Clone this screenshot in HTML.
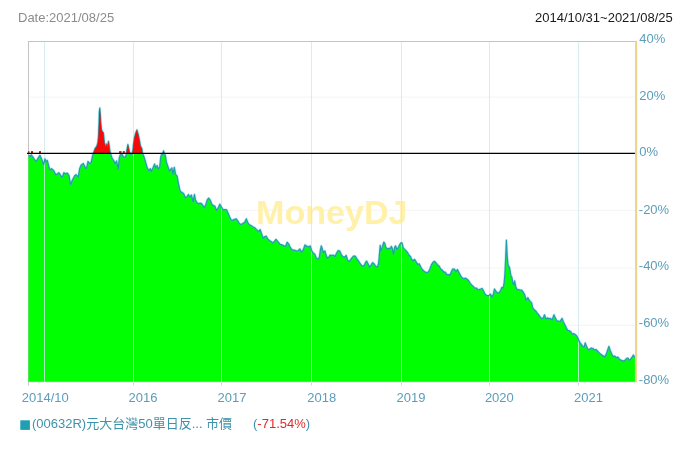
<!DOCTYPE html>
<html lang="zh-Hant">
<head>
<meta charset="utf-8">
<title>MoneyDJ</title>
<style>
html,body{margin:0;padding:0;background:#fff;}
body{width:686px;height:452px;overflow:hidden;position:relative;}
svg{display:block;position:absolute;left:0;top:0;}
svg text{font-family:"Liberation Sans","Noto Sans CJK TC",sans-serif;font-size:13px;}
.ax{fill:#5c9db8;}
.lg{fill:#3d93ab;}
</style>
</head>
<body>
<svg width="686" height="452" viewBox="0 0 686 452">
<rect width="686" height="452" fill="#fff"/>
<line x1="29" x2="635" y1="97.1" y2="97.1" stroke="#f4f4f4" stroke-width="1"/>
<line x1="29" x2="635" y1="210.3" y2="210.3" stroke="#f4f4f4" stroke-width="1"/>
<line x1="29" x2="635" y1="268" y2="268" stroke="#f4f4f4" stroke-width="1"/>
<line x1="29" x2="635" y1="325.3" y2="325.3" stroke="#f4f4f4" stroke-width="1"/>
<text x="256.0" y="224.3" style="font-size:34.1px;font-weight:bold" fill="#fff0aa">MoneyDJ</text>
<line x1="28.5" x2="28.5" y1="41" y2="382" stroke="#c4c4c4" stroke-width="1"/>
<line x1="28.5" x2="28.5" y1="382" y2="385.5" stroke="#cacaca" stroke-width="1"/>
<path d="M28.4,155.3 28.7,155.3 30.2,156.3 31.2,154.8 32.8,156.8 34.3,159.4 36.3,161.4 37.9,158.4 39.9,155.3 41.4,158.4 43.5,164.5 45,158.9 46,161.9 47.3,160.4 49.1,167.6 50.1,170.1 51.6,168.6 53.7,170.6 55.7,174.7 57.2,174.2 58.8,172.7 60.8,175.7 62.3,177.2 63.9,172.7 65.4,173.7 67.4,173.2 69,175.7 70.5,184.4 72.6,179.8 74.6,175.7 76.1,174.7 78.2,177.2 79.7,168.6 81.2,165 83.3,163.5 85.3,167.6 86.5,168.7 88,161.5 89.6,163.6 91.1,162.6 92.7,155.4 93.7,153.4 95.2,153.4 96.7,153.4 97.8,153.4 98.5,153.4 99,153.4 99.3,153.4 99.8,153.4 100.3,153.4 100.8,153.4 101.5,153.4 102.3,153.4 103.4,153.4 103.9,153.4 104.4,153.4 105.4,153.4 105.9,153.4 106.6,153.4 107.4,153.4 108.5,153.4 109.2,153.4 109.8,153.4 110.5,153.4 112,158 113.6,160.5 115.1,163.6 116.6,161 118.2,169.2 119.2,158.5 120.2,154.9 121.7,153.9 123.3,156.9 125.3,157.4 126.3,154.4 126.8,153.4 127.9,153.4 129.4,153.4 130.4,154.4 131.8,154.2 132.4,153.4 132.9,153.4 133.4,153.4 134.4,153.4 135.7,153.4 136.9,153.4 138.4,153.4 139.4,153.4 140.4,153.4 141.9,153.4 142.5,153.4 144.2,157.4 145.7,162.6 147.2,167.7 148.8,170.7 150.3,168.7 151.3,171.5 153.1,167.6 154.6,164 155.6,168 157.1,165.5 158.2,169 159.7,167 160.7,157.3 161.5,154.6 162.5,154.3 163.2,153.4 163.6,153.4 164,153.4 164.8,154.6 165.5,156.2 166.3,162 167.9,166.5 169.4,171.1 170.4,169.6 171.9,168 173,174.2 174.3,167.4 175.6,174.4 177.1,176.1 178.2,182.2 179.7,189.4 180.7,191.9 182.2,192.4 183.8,194 185.3,197.6 186.8,197 188.4,194.5 189.9,197 191.4,195 193,201.6 194.5,194.5 195.5,200.1 197,202.7 198.6,203.7 200.6,203.2 202.1,204.2 204.2,207.8 205.7,204.7 207.2,200.1 208.6,198.1 210.3,200.1 211.8,204.2 213.4,205.7 214.9,206.2 216.4,210.3 218,208.3 219.8,204.2 221.5,207.2 223.1,209.8 224.6,209.5 226.5,209.7 228.1,213.3 229.6,216.8 231.1,219.9 232.7,220.4 234.2,219.4 236.2,218.9 237.8,220.9 239.3,223.5 240.8,224.5 242.9,223.5 244.9,221.9 246.4,218.9 247.4,221.9 249,224.5 251,225.5 253.1,227 254.6,227.6 256.6,229.6 258.7,231.6 260.2,229.6 261.7,234.2 263.3,238.3 264.8,236.7 266.3,236.2 267.9,239.3 269.9,240.8 271.4,241.8 273,242.9 274.5,241.3 276,239.3 278.1,241.8 280.1,244.4 282,244.9 284.1,245.9 285.6,246.4 287.1,242.3 288.7,243.9 290.2,247.4 292.2,250 294.3,250 296.3,251 298.4,250.5 299.9,249 301.4,252 303,250.5 305,244.9 307,246.4 308.6,246.9 310.1,245.9 311.6,250.5 313.2,253.1 314.7,254.1 316.2,257.7 317.8,259.2 319.3,257.7 320.3,250.5 321.3,245.9 322.3,249 323.4,252.6 324.9,251 325.9,254.6 327.4,258.2 329,257.1 330,255.1 331.5,255.6 333.1,255.1 335.1,256.6 336.6,253.1 338.2,250.5 339.7,251 341.2,254.6 342.8,256.6 344.8,257.1 346.2,255.5 347.6,260.1 349.1,261.6 350.6,259.6 352.1,257.6 353.7,256 355.2,256 356.7,258.6 358.3,260.6 359.8,263.2 361.8,265.7 363.9,266.2 365.4,262.7 366.6,261.1 368,263.7 369.5,267.2 371,265.2 372.6,262.7 374.1,263.7 375.6,266.2 377.4,267.2 378.7,262.7 379.5,253.5 380.2,245.3 380.9,250.4 382.2,247.3 383.8,242.2 384.8,243.3 385.8,247.3 387.3,248.9 388.9,248.4 390.4,248.4 391.4,246.3 392.4,248.9 393.5,254 394.5,247.9 395.5,245.8 396.8,249.4 398.1,247.9 399.6,244.8 400.9,242.8 402.1,242.8 403.2,247.9 404.7,249.4 406.2,250.9 407.8,253 409.3,255.5 410.5,256.5 411.5,259.3 413.1,260.8 414.6,259.3 416.1,261.8 417.7,264.4 419.2,263.9 420.7,266.9 422.2,269.5 424.3,271.5 426.3,272.6 428.4,272 429.9,269 431.4,264.9 433,262.3 434.5,261.3 436,262.9 437.6,264.9 439.1,265.9 440.6,269 442.1,270 443.7,272 445.2,272 446.7,274.6 448.3,274.6 449.8,275.6 451.3,272 452.7,269 454.4,269 455.9,271.5 457.4,269.5 459,272.6 460.5,275.6 462,277.7 463.6,278.7 465.6,278.2 467.1,279.2 468.7,280.7 470.2,283.3 471.6,284.9 473.2,286.4 474.7,288.2 476.2,288 477.8,289.5 479.3,289.6 480.7,289 482.2,288.5 483.8,291.5 485.3,294.6 486.8,295.6 488.9,295.6 490.4,294.1 491.9,297.1 493.3,294.6 494.5,289 496,291.5 497.6,293.1 499.1,292.6 500.6,290.5 501.8,287.4 503.2,288 504.2,282.3 504.9,274.2 505.5,262 506.4,240.2 507.2,256 508,264.7 509.5,267.7 510.3,272 510.8,275.2 511.8,277.2 512.9,283.4 513.9,284.9 514.6,280.8 515.7,286.4 516.9,289.5 518.5,289.5 520,290 521.5,290 523.1,292 524.6,294.6 526.1,300.2 527.9,297.7 529.2,300.2 530.7,301.9 531.5,302.6 532.6,307.7 534.1,309.7 535.6,310.8 537.1,312.8 538.7,314.8 540.2,316.9 541.7,318.9 543.3,317.9 544.5,314.8 545.8,318.9 547.3,317.9 548.9,318.9 550.4,318.4 551.9,319.9 553,317.4 554,314.8 555.5,318.4 557,321 558.6,321 560.1,321.5 561.1,319.9 562.1,318.4 563.2,321.5 564.7,324.5 566.2,327.6 567.8,330.7 569.3,330.7 570.8,331.7 572.3,334.2 573.9,333.7 575.4,334.7 576.7,336 578.2,339 579.8,342.4 581.1,344.2 582.7,346.4 584.2,346.9 585.2,342.9 586.7,346.9 588.3,350 589.8,349 591.3,348 592.9,348.5 594.4,350 595.9,349.5 597.4,351 599,352.6 600.5,354.1 602,355.1 603.6,356.1 604.6,357.1 606.1,354.6 607.7,350 608.9,346.4 610.2,350.5 611.7,354.1 613.3,356.6 614.8,356.1 616.3,357.7 617.9,357.1 619.4,359.2 620.9,360.2 622.4,360.7 624,361.2 625.5,359.7 627,358.2 628.1,358.2 629.1,360.2 630.6,359.2 632.1,357.1 633.4,355.1 634.7,357.1 635.7,357.1 L635.7,382 28.4,382Z" fill="#00ff00"/>
<line x1="44.5" x2="44.5" y1="41.5" y2="382" stroke="#cfe9ed" stroke-opacity="0.8" stroke-width="1"/>
<line x1="133.5" x2="133.5" y1="41.5" y2="382" stroke="#cfe9ed" stroke-opacity="0.8" stroke-width="1"/>
<line x1="133.5" x2="133.5" y1="382" y2="385.5" stroke="#cfd8da" stroke-width="1"/>
<line x1="221.5" x2="221.5" y1="41.5" y2="382" stroke="#cfe9ed" stroke-opacity="0.8" stroke-width="1"/>
<line x1="221.5" x2="221.5" y1="382" y2="385.5" stroke="#cfd8da" stroke-width="1"/>
<line x1="311.5" x2="311.5" y1="41.5" y2="382" stroke="#cfe9ed" stroke-opacity="0.8" stroke-width="1"/>
<line x1="311.5" x2="311.5" y1="382" y2="385.5" stroke="#cfd8da" stroke-width="1"/>
<line x1="401.5" x2="401.5" y1="41.5" y2="382" stroke="#cfe9ed" stroke-opacity="0.8" stroke-width="1"/>
<line x1="401.5" x2="401.5" y1="382" y2="385.5" stroke="#cfd8da" stroke-width="1"/>
<line x1="489.5" x2="489.5" y1="41.5" y2="382" stroke="#cfe9ed" stroke-opacity="0.8" stroke-width="1"/>
<line x1="489.5" x2="489.5" y1="382" y2="385.5" stroke="#cfd8da" stroke-width="1"/>
<line x1="578.5" x2="578.5" y1="41.5" y2="382" stroke="#cfe9ed" stroke-opacity="0.8" stroke-width="1"/>
<line x1="578.5" x2="578.5" y1="382" y2="385.5" stroke="#cfd8da" stroke-width="1"/>
<path d="M28.4,155.3 28.7,155.3 30.2,156.3 31.2,154.8 32.8,156.8 34.3,159.4 36.3,161.4 37.9,158.4 39.9,155.3 41.4,158.4 43.5,164.5 45,158.9 46,161.9 47.3,160.4 49.1,167.6 50.1,170.1 51.6,168.6 53.7,170.6 55.7,174.7 57.2,174.2 58.8,172.7 60.8,175.7 62.3,177.2 63.9,172.7 65.4,173.7 67.4,173.2 69,175.7 70.5,184.4 72.6,179.8 74.6,175.7 76.1,174.7 78.2,177.2 79.7,168.6 81.2,165 83.3,163.5 85.3,167.6 86.5,168.7 88,161.5 89.6,163.6 91.1,162.6 92.7,155.4 93.7,152.3 95.2,148.3 96.7,146.5 97.8,142.8 98.5,135.7 99,122.4 99.3,112.2 99.8,108.1 100.3,114.2 100.8,122.4 101.5,129.6 102.3,131.6 103.4,132.6 103.9,137.7 104.4,142.8 105.4,146 105.9,146.6 106.6,143.8 107.4,147.2 108.5,141.3 109.2,145.5 109.8,150.3 110.5,153.4 112,158 113.6,160.5 115.1,163.6 116.6,161 118.2,169.2 119.2,158.5 120.2,154.9 121.7,153.9 123.3,156.9 125.3,157.4 126.3,154.4 126.8,150.3 127.9,144.5 129.4,151.3 130.4,154.4 131.8,154.2 132.4,152.5 132.9,149.8 133.4,144.9 134.4,137.9 135.7,132.9 136.9,129.9 138.4,134.9 139.4,139.9 140.4,145.8 141.9,148.8 142.5,153.2 144.2,157.4 145.7,162.6 147.2,167.7 148.8,170.7 150.3,168.7 151.3,171.5 153.1,167.6 154.6,164 155.6,168 157.1,165.5 158.2,169 159.7,167 160.7,157.3 161.5,154.6 162.5,154.3 163.2,152 163.6,150.9 164,152.5 164.8,154.6 165.5,156.2 166.3,162 167.9,166.5 169.4,171.1 170.4,169.6 171.9,168 173,174.2 174.3,167.4 175.6,174.4 177.1,176.1 178.2,182.2 179.7,189.4 180.7,191.9 182.2,192.4 183.8,194 185.3,197.6 186.8,197 188.4,194.5 189.9,197 191.4,195 193,201.6 194.5,194.5 195.5,200.1 197,202.7 198.6,203.7 200.6,203.2 202.1,204.2 204.2,207.8 205.7,204.7 207.2,200.1 208.6,198.1 210.3,200.1 211.8,204.2 213.4,205.7 214.9,206.2 216.4,210.3 218,208.3 219.8,204.2 221.5,207.2 223.1,209.8 224.6,209.5 226.5,209.7 228.1,213.3 229.6,216.8 231.1,219.9 232.7,220.4 234.2,219.4 236.2,218.9 237.8,220.9 239.3,223.5 240.8,224.5 242.9,223.5 244.9,221.9 246.4,218.9 247.4,221.9 249,224.5 251,225.5 253.1,227 254.6,227.6 256.6,229.6 258.7,231.6 260.2,229.6 261.7,234.2 263.3,238.3 264.8,236.7 266.3,236.2 267.9,239.3 269.9,240.8 271.4,241.8 273,242.9 274.5,241.3 276,239.3 278.1,241.8 280.1,244.4 282,244.9 284.1,245.9 285.6,246.4 287.1,242.3 288.7,243.9 290.2,247.4 292.2,250 294.3,250 296.3,251 298.4,250.5 299.9,249 301.4,252 303,250.5 305,244.9 307,246.4 308.6,246.9 310.1,245.9 311.6,250.5 313.2,253.1 314.7,254.1 316.2,257.7 317.8,259.2 319.3,257.7 320.3,250.5 321.3,245.9 322.3,249 323.4,252.6 324.9,251 325.9,254.6 327.4,258.2 329,257.1 330,255.1 331.5,255.6 333.1,255.1 335.1,256.6 336.6,253.1 338.2,250.5 339.7,251 341.2,254.6 342.8,256.6 344.8,257.1 346.2,255.5 347.6,260.1 349.1,261.6 350.6,259.6 352.1,257.6 353.7,256 355.2,256 356.7,258.6 358.3,260.6 359.8,263.2 361.8,265.7 363.9,266.2 365.4,262.7 366.6,261.1 368,263.7 369.5,267.2 371,265.2 372.6,262.7 374.1,263.7 375.6,266.2 377.4,267.2 378.7,262.7 379.5,253.5 380.2,245.3 380.9,250.4 382.2,247.3 383.8,242.2 384.8,243.3 385.8,247.3 387.3,248.9 388.9,248.4 390.4,248.4 391.4,246.3 392.4,248.9 393.5,254 394.5,247.9 395.5,245.8 396.8,249.4 398.1,247.9 399.6,244.8 400.9,242.8 402.1,242.8 403.2,247.9 404.7,249.4 406.2,250.9 407.8,253 409.3,255.5 410.5,256.5 411.5,259.3 413.1,260.8 414.6,259.3 416.1,261.8 417.7,264.4 419.2,263.9 420.7,266.9 422.2,269.5 424.3,271.5 426.3,272.6 428.4,272 429.9,269 431.4,264.9 433,262.3 434.5,261.3 436,262.9 437.6,264.9 439.1,265.9 440.6,269 442.1,270 443.7,272 445.2,272 446.7,274.6 448.3,274.6 449.8,275.6 451.3,272 452.7,269 454.4,269 455.9,271.5 457.4,269.5 459,272.6 460.5,275.6 462,277.7 463.6,278.7 465.6,278.2 467.1,279.2 468.7,280.7 470.2,283.3 471.6,284.9 473.2,286.4 474.7,288.2 476.2,288 477.8,289.5 479.3,289.6 480.7,289 482.2,288.5 483.8,291.5 485.3,294.6 486.8,295.6 488.9,295.6 490.4,294.1 491.9,297.1 493.3,294.6 494.5,289 496,291.5 497.6,293.1 499.1,292.6 500.6,290.5 501.8,287.4 503.2,288 504.2,282.3 504.9,274.2 505.5,262 506.4,240.2 507.2,256 508,264.7 509.5,267.7 510.3,272 510.8,275.2 511.8,277.2 512.9,283.4 513.9,284.9 514.6,280.8 515.7,286.4 516.9,289.5 518.5,289.5 520,290 521.5,290 523.1,292 524.6,294.6 526.1,300.2 527.9,297.7 529.2,300.2 530.7,301.9 531.5,302.6 532.6,307.7 534.1,309.7 535.6,310.8 537.1,312.8 538.7,314.8 540.2,316.9 541.7,318.9 543.3,317.9 544.5,314.8 545.8,318.9 547.3,317.9 548.9,318.9 550.4,318.4 551.9,319.9 553,317.4 554,314.8 555.5,318.4 557,321 558.6,321 560.1,321.5 561.1,319.9 562.1,318.4 563.2,321.5 564.7,324.5 566.2,327.6 567.8,330.7 569.3,330.7 570.8,331.7 572.3,334.2 573.9,333.7 575.4,334.7 576.7,336 578.2,339 579.8,342.4 581.1,344.2 582.7,346.4 584.2,346.9 585.2,342.9 586.7,346.9 588.3,350 589.8,349 591.3,348 592.9,348.5 594.4,350 595.9,349.5 597.4,351 599,352.6 600.5,354.1 602,355.1 603.6,356.1 604.6,357.1 606.1,354.6 607.7,350 608.9,346.4 610.2,350.5 611.7,354.1 613.3,356.6 614.8,356.1 616.3,357.7 617.9,357.1 619.4,359.2 620.9,360.2 622.4,360.7 624,361.2 625.5,359.7 627,358.2 628.1,358.2 629.1,360.2 630.6,359.2 632.1,357.1 633.4,355.1 634.7,357.1 635.7,357.1" fill="none" stroke="#3fc3d2" stroke-opacity="0.3" stroke-width="2.6" stroke-linejoin="round"/>
<path d="M28.4,155.3 28.7,155.3 30.2,156.3 31.2,154.8 32.8,156.8 34.3,159.4 36.3,161.4 37.9,158.4 39.9,155.3 41.4,158.4 43.5,164.5 45,158.9 46,161.9 47.3,160.4 49.1,167.6 50.1,170.1 51.6,168.6 53.7,170.6 55.7,174.7 57.2,174.2 58.8,172.7 60.8,175.7 62.3,177.2 63.9,172.7 65.4,173.7 67.4,173.2 69,175.7 70.5,184.4 72.6,179.8 74.6,175.7 76.1,174.7 78.2,177.2 79.7,168.6 81.2,165 83.3,163.5 85.3,167.6 86.5,168.7 88,161.5 89.6,163.6 91.1,162.6 92.7,155.4 93.7,152.3 95.2,148.3 96.7,146.5 97.8,142.8 98.5,135.7 99,122.4 99.3,112.2 99.8,108.1 100.3,114.2 100.8,122.4 101.5,129.6 102.3,131.6 103.4,132.6 103.9,137.7 104.4,142.8 105.4,146 105.9,146.6 106.6,143.8 107.4,147.2 108.5,141.3 109.2,145.5 109.8,150.3 110.5,153.4 112,158 113.6,160.5 115.1,163.6 116.6,161 118.2,169.2 119.2,158.5 120.2,154.9 121.7,153.9 123.3,156.9 125.3,157.4 126.3,154.4 126.8,150.3 127.9,144.5 129.4,151.3 130.4,154.4 131.8,154.2 132.4,152.5 132.9,149.8 133.4,144.9 134.4,137.9 135.7,132.9 136.9,129.9 138.4,134.9 139.4,139.9 140.4,145.8 141.9,148.8 142.5,153.2 144.2,157.4 145.7,162.6 147.2,167.7 148.8,170.7 150.3,168.7 151.3,171.5 153.1,167.6 154.6,164 155.6,168 157.1,165.5 158.2,169 159.7,167 160.7,157.3 161.5,154.6 162.5,154.3 163.2,152 163.6,150.9 164,152.5 164.8,154.6 165.5,156.2 166.3,162 167.9,166.5 169.4,171.1 170.4,169.6 171.9,168 173,174.2 174.3,167.4 175.6,174.4 177.1,176.1 178.2,182.2 179.7,189.4 180.7,191.9 182.2,192.4 183.8,194 185.3,197.6 186.8,197 188.4,194.5 189.9,197 191.4,195 193,201.6 194.5,194.5 195.5,200.1 197,202.7 198.6,203.7 200.6,203.2 202.1,204.2 204.2,207.8 205.7,204.7 207.2,200.1 208.6,198.1 210.3,200.1 211.8,204.2 213.4,205.7 214.9,206.2 216.4,210.3 218,208.3 219.8,204.2 221.5,207.2 223.1,209.8 224.6,209.5 226.5,209.7 228.1,213.3 229.6,216.8 231.1,219.9 232.7,220.4 234.2,219.4 236.2,218.9 237.8,220.9 239.3,223.5 240.8,224.5 242.9,223.5 244.9,221.9 246.4,218.9 247.4,221.9 249,224.5 251,225.5 253.1,227 254.6,227.6 256.6,229.6 258.7,231.6 260.2,229.6 261.7,234.2 263.3,238.3 264.8,236.7 266.3,236.2 267.9,239.3 269.9,240.8 271.4,241.8 273,242.9 274.5,241.3 276,239.3 278.1,241.8 280.1,244.4 282,244.9 284.1,245.9 285.6,246.4 287.1,242.3 288.7,243.9 290.2,247.4 292.2,250 294.3,250 296.3,251 298.4,250.5 299.9,249 301.4,252 303,250.5 305,244.9 307,246.4 308.6,246.9 310.1,245.9 311.6,250.5 313.2,253.1 314.7,254.1 316.2,257.7 317.8,259.2 319.3,257.7 320.3,250.5 321.3,245.9 322.3,249 323.4,252.6 324.9,251 325.9,254.6 327.4,258.2 329,257.1 330,255.1 331.5,255.6 333.1,255.1 335.1,256.6 336.6,253.1 338.2,250.5 339.7,251 341.2,254.6 342.8,256.6 344.8,257.1 346.2,255.5 347.6,260.1 349.1,261.6 350.6,259.6 352.1,257.6 353.7,256 355.2,256 356.7,258.6 358.3,260.6 359.8,263.2 361.8,265.7 363.9,266.2 365.4,262.7 366.6,261.1 368,263.7 369.5,267.2 371,265.2 372.6,262.7 374.1,263.7 375.6,266.2 377.4,267.2 378.7,262.7 379.5,253.5 380.2,245.3 380.9,250.4 382.2,247.3 383.8,242.2 384.8,243.3 385.8,247.3 387.3,248.9 388.9,248.4 390.4,248.4 391.4,246.3 392.4,248.9 393.5,254 394.5,247.9 395.5,245.8 396.8,249.4 398.1,247.9 399.6,244.8 400.9,242.8 402.1,242.8 403.2,247.9 404.7,249.4 406.2,250.9 407.8,253 409.3,255.5 410.5,256.5 411.5,259.3 413.1,260.8 414.6,259.3 416.1,261.8 417.7,264.4 419.2,263.9 420.7,266.9 422.2,269.5 424.3,271.5 426.3,272.6 428.4,272 429.9,269 431.4,264.9 433,262.3 434.5,261.3 436,262.9 437.6,264.9 439.1,265.9 440.6,269 442.1,270 443.7,272 445.2,272 446.7,274.6 448.3,274.6 449.8,275.6 451.3,272 452.7,269 454.4,269 455.9,271.5 457.4,269.5 459,272.6 460.5,275.6 462,277.7 463.6,278.7 465.6,278.2 467.1,279.2 468.7,280.7 470.2,283.3 471.6,284.9 473.2,286.4 474.7,288.2 476.2,288 477.8,289.5 479.3,289.6 480.7,289 482.2,288.5 483.8,291.5 485.3,294.6 486.8,295.6 488.9,295.6 490.4,294.1 491.9,297.1 493.3,294.6 494.5,289 496,291.5 497.6,293.1 499.1,292.6 500.6,290.5 501.8,287.4 503.2,288 504.2,282.3 504.9,274.2 505.5,262 506.4,240.2 507.2,256 508,264.7 509.5,267.7 510.3,272 510.8,275.2 511.8,277.2 512.9,283.4 513.9,284.9 514.6,280.8 515.7,286.4 516.9,289.5 518.5,289.5 520,290 521.5,290 523.1,292 524.6,294.6 526.1,300.2 527.9,297.7 529.2,300.2 530.7,301.9 531.5,302.6 532.6,307.7 534.1,309.7 535.6,310.8 537.1,312.8 538.7,314.8 540.2,316.9 541.7,318.9 543.3,317.9 544.5,314.8 545.8,318.9 547.3,317.9 548.9,318.9 550.4,318.4 551.9,319.9 553,317.4 554,314.8 555.5,318.4 557,321 558.6,321 560.1,321.5 561.1,319.9 562.1,318.4 563.2,321.5 564.7,324.5 566.2,327.6 567.8,330.7 569.3,330.7 570.8,331.7 572.3,334.2 573.9,333.7 575.4,334.7 576.7,336 578.2,339 579.8,342.4 581.1,344.2 582.7,346.4 584.2,346.9 585.2,342.9 586.7,346.9 588.3,350 589.8,349 591.3,348 592.9,348.5 594.4,350 595.9,349.5 597.4,351 599,352.6 600.5,354.1 602,355.1 603.6,356.1 604.6,357.1 606.1,354.6 607.7,350 608.9,346.4 610.2,350.5 611.7,354.1 613.3,356.6 614.8,356.1 616.3,357.7 617.9,357.1 619.4,359.2 620.9,360.2 622.4,360.7 624,361.2 625.5,359.7 627,358.2 628.1,358.2 629.1,360.2 630.6,359.2 632.1,357.1 633.4,355.1 634.7,357.1 635.7,357.1" fill="none" stroke="#259dae" stroke-width="1.25" stroke-linejoin="round"/>
<path d="M28.4,153.4 28.7,153.4 30.2,153.4 31.2,153.4 32.8,153.4 34.3,153.4 36.3,153.4 37.9,153.4 39.9,153.4 41.4,153.4 43.5,153.4 45,153.4 46,153.4 47.3,153.4 49.1,153.4 50.1,153.4 51.6,153.4 53.7,153.4 55.7,153.4 57.2,153.4 58.8,153.4 60.8,153.4 62.3,153.4 63.9,153.4 65.4,153.4 67.4,153.4 69,153.4 70.5,153.4 72.6,153.4 74.6,153.4 76.1,153.4 78.2,153.4 79.7,153.4 81.2,153.4 83.3,153.4 85.3,153.4 86.5,153.4 88,153.4 89.6,153.4 91.1,153.4 92.7,153.4 93.7,152.3 95.2,148.3 96.7,146.5 97.8,142.8 98.5,135.7 99,122.4 99.3,112.2 99.8,108.1 100.3,114.2 100.8,122.4 101.5,129.6 102.3,131.6 103.4,132.6 103.9,137.7 104.4,142.8 105.4,146 105.9,146.6 106.6,143.8 107.4,147.2 108.5,141.3 109.2,145.5 109.8,150.3 110.5,153.4 112,153.4 113.6,153.4 115.1,153.4 116.6,153.4 118.2,153.4 119.2,153.4 120.2,153.4 121.7,153.4 123.3,153.4 125.3,153.4 126.3,153.4 126.8,150.3 127.9,144.5 129.4,151.3 130.4,153.4 131.8,153.4 132.4,152.5 132.9,149.8 133.4,144.9 134.4,137.9 135.7,132.9 136.9,129.9 138.4,134.9 139.4,139.9 140.4,145.8 141.9,148.8 142.5,153.2 144.2,153.4 145.7,153.4 147.2,153.4 148.8,153.4 150.3,153.4 151.3,153.4 153.1,153.4 154.6,153.4 155.6,153.4 157.1,153.4 158.2,153.4 159.7,153.4 160.7,153.4 161.5,153.4 162.5,153.4 163.2,152 163.6,150.9 164,152.5 164.8,153.4 165.5,153.4 166.3,153.4 167.9,153.4 169.4,153.4 170.4,153.4 171.9,153.4 173,153.4 174.3,153.4 175.6,153.4 177.1,153.4 178.2,153.4 179.7,153.4 180.7,153.4 182.2,153.4 183.8,153.4 185.3,153.4 186.8,153.4 188.4,153.4 189.9,153.4 191.4,153.4 193,153.4 194.5,153.4 195.5,153.4 197,153.4 198.6,153.4 200.6,153.4 202.1,153.4 204.2,153.4 205.7,153.4 207.2,153.4 208.6,153.4 210.3,153.4 211.8,153.4 213.4,153.4 214.9,153.4 216.4,153.4 218,153.4 219.8,153.4 221.5,153.4 223.1,153.4 224.6,153.4 226.5,153.4 228.1,153.4 229.6,153.4 231.1,153.4 232.7,153.4 234.2,153.4 236.2,153.4 237.8,153.4 239.3,153.4 240.8,153.4 242.9,153.4 244.9,153.4 246.4,153.4 247.4,153.4 249,153.4 251,153.4 253.1,153.4 254.6,153.4 256.6,153.4 258.7,153.4 260.2,153.4 261.7,153.4 263.3,153.4 264.8,153.4 266.3,153.4 267.9,153.4 269.9,153.4 271.4,153.4 273,153.4 274.5,153.4 276,153.4 278.1,153.4 280.1,153.4 282,153.4 284.1,153.4 285.6,153.4 287.1,153.4 288.7,153.4 290.2,153.4 292.2,153.4 294.3,153.4 296.3,153.4 298.4,153.4 299.9,153.4 301.4,153.4 303,153.4 305,153.4 307,153.4 308.6,153.4 310.1,153.4 311.6,153.4 313.2,153.4 314.7,153.4 316.2,153.4 317.8,153.4 319.3,153.4 320.3,153.4 321.3,153.4 322.3,153.4 323.4,153.4 324.9,153.4 325.9,153.4 327.4,153.4 329,153.4 330,153.4 331.5,153.4 333.1,153.4 335.1,153.4 336.6,153.4 338.2,153.4 339.7,153.4 341.2,153.4 342.8,153.4 344.8,153.4 346.2,153.4 347.6,153.4 349.1,153.4 350.6,153.4 352.1,153.4 353.7,153.4 355.2,153.4 356.7,153.4 358.3,153.4 359.8,153.4 361.8,153.4 363.9,153.4 365.4,153.4 366.6,153.4 368,153.4 369.5,153.4 371,153.4 372.6,153.4 374.1,153.4 375.6,153.4 377.4,153.4 378.7,153.4 379.5,153.4 380.2,153.4 380.9,153.4 382.2,153.4 383.8,153.4 384.8,153.4 385.8,153.4 387.3,153.4 388.9,153.4 390.4,153.4 391.4,153.4 392.4,153.4 393.5,153.4 394.5,153.4 395.5,153.4 396.8,153.4 398.1,153.4 399.6,153.4 400.9,153.4 402.1,153.4 403.2,153.4 404.7,153.4 406.2,153.4 407.8,153.4 409.3,153.4 410.5,153.4 411.5,153.4 413.1,153.4 414.6,153.4 416.1,153.4 417.7,153.4 419.2,153.4 420.7,153.4 422.2,153.4 424.3,153.4 426.3,153.4 428.4,153.4 429.9,153.4 431.4,153.4 433,153.4 434.5,153.4 436,153.4 437.6,153.4 439.1,153.4 440.6,153.4 442.1,153.4 443.7,153.4 445.2,153.4 446.7,153.4 448.3,153.4 449.8,153.4 451.3,153.4 452.7,153.4 454.4,153.4 455.9,153.4 457.4,153.4 459,153.4 460.5,153.4 462,153.4 463.6,153.4 465.6,153.4 467.1,153.4 468.7,153.4 470.2,153.4 471.6,153.4 473.2,153.4 474.7,153.4 476.2,153.4 477.8,153.4 479.3,153.4 480.7,153.4 482.2,153.4 483.8,153.4 485.3,153.4 486.8,153.4 488.9,153.4 490.4,153.4 491.9,153.4 493.3,153.4 494.5,153.4 496,153.4 497.6,153.4 499.1,153.4 500.6,153.4 501.8,153.4 503.2,153.4 504.2,153.4 504.9,153.4 505.5,153.4 506.4,153.4 507.2,153.4 508,153.4 509.5,153.4 510.3,153.4 510.8,153.4 511.8,153.4 512.9,153.4 513.9,153.4 514.6,153.4 515.7,153.4 516.9,153.4 518.5,153.4 520,153.4 521.5,153.4 523.1,153.4 524.6,153.4 526.1,153.4 527.9,153.4 529.2,153.4 530.7,153.4 531.5,153.4 532.6,153.4 534.1,153.4 535.6,153.4 537.1,153.4 538.7,153.4 540.2,153.4 541.7,153.4 543.3,153.4 544.5,153.4 545.8,153.4 547.3,153.4 548.9,153.4 550.4,153.4 551.9,153.4 553,153.4 554,153.4 555.5,153.4 557,153.4 558.6,153.4 560.1,153.4 561.1,153.4 562.1,153.4 563.2,153.4 564.7,153.4 566.2,153.4 567.8,153.4 569.3,153.4 570.8,153.4 572.3,153.4 573.9,153.4 575.4,153.4 576.7,153.4 578.2,153.4 579.8,153.4 581.1,153.4 582.7,153.4 584.2,153.4 585.2,153.4 586.7,153.4 588.3,153.4 589.8,153.4 591.3,153.4 592.9,153.4 594.4,153.4 595.9,153.4 597.4,153.4 599,153.4 600.5,153.4 602,153.4 603.6,153.4 604.6,153.4 606.1,153.4 607.7,153.4 608.9,153.4 610.2,153.4 611.7,153.4 613.3,153.4 614.8,153.4 616.3,153.4 617.9,153.4 619.4,153.4 620.9,153.4 622.4,153.4 624,153.4 625.5,153.4 627,153.4 628.1,153.4 629.1,153.4 630.6,153.4 632.1,153.4 633.4,153.4 634.7,153.4 635.7,153.4 L635.7,153.4 28.4,153.4Z" fill="#f50a0a"/>
<rect x="28.2" y="151.1" width="1.2" height="2.2" fill="#c81414"/>
<rect x="31" y="151.1" width="2.1" height="2.2" fill="#c81414"/>
<rect x="39" y="151.1" width="2" height="2.2" fill="#c81414"/>
<rect x="119.1" y="151.1" width="2.4" height="2.2" fill="#c81414"/>
<rect x="122.8" y="151.1" width="2" height="2.2" fill="#c81414"/>
<line x1="28" x2="635" y1="41.5" y2="41.5" stroke="#c4c4c4" stroke-width="1"/>
<line x1="29" x2="635" y1="382.3" y2="382.3" stroke="#e4f4e4" stroke-width="1"/>
<line x1="27" x2="635.5" y1="153.4" y2="153.4" stroke="#000" stroke-width="1.1"/>
<rect x="634.9" y="40.8" width="2.5" height="341.4" fill="#fbedc0" fill-opacity="0.8"/>
<rect x="635.3" y="40.8" width="1.4" height="341.4" fill="#e8c874"/>
<text x="18" y="22" fill="#8c8c8c">Date:2021/08/25</text>
<text x="535" y="22" fill="#1a1a1a">2014/10/31~2021/08/25</text>
<text class="ax" x="21.8" y="401.7">2014/10</text>
<text class="ax" x="128.6" y="401.7">2016</text>
<text class="ax" x="217.6" y="401.7">2017</text>
<text class="ax" x="307.2" y="401.7">2018</text>
<text class="ax" x="396.6" y="401.7">2019</text>
<text class="ax" x="484.9" y="401.7">2020</text>
<text class="ax" x="574" y="401.7">2021</text>
<text class="ax" x="639.3" y="42.6">40%</text>
<text class="ax" x="639.3" y="99.6">20%</text>
<text class="ax" x="639.3" y="156.2">0%</text>
<text class="ax" x="638.8" y="213.5">-20%</text>
<text class="ax" x="638.8" y="269.8">-40%</text>
<text class="ax" x="638.8" y="326.8">-60%</text>
<text class="ax" x="638.8" y="383.6">-80%</text>
<rect x="20.3" y="420.3" width="9.6" height="9.6" fill="#1f9fb2"/>
<text class="lg" x="32" y="428.1">(00632R)元大台灣50單日反... 市價</text>
<text class="lg" x="253" y="428.1">(<tspan fill="#e02a2a">-71.54%</tspan>)</text>
</svg>
</body>
</html>
